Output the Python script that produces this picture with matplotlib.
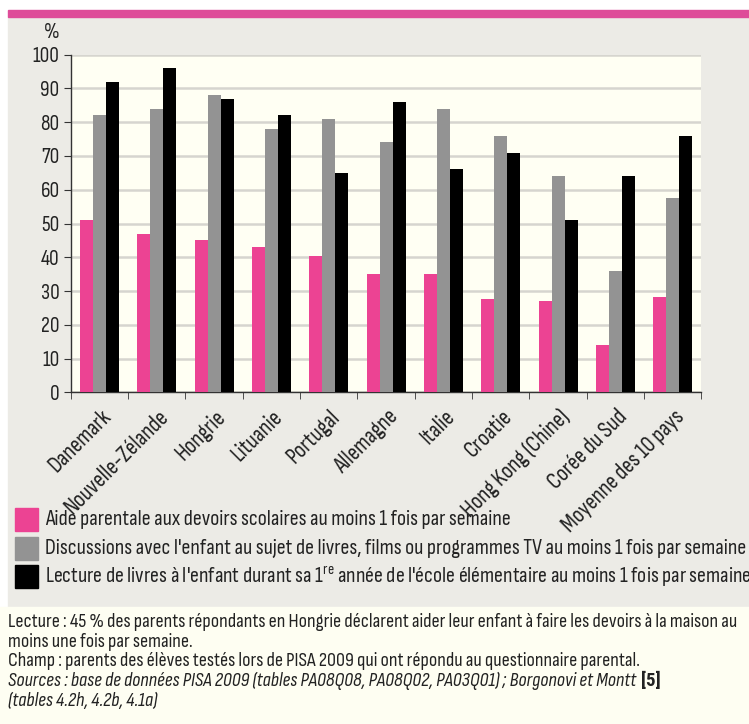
import numpy as np
import matplotlib.pyplot as plt
from matplotlib import font_manager
from matplotlib.patches import Rectangle
from matplotlib.transforms import ScaledTranslation

available = {f.name for f in font_manager.fontManager.ttflist}
family = None
for cand in ["Sofia Sans Condensed", "Barlow Condensed", "Roboto Condensed"]:
    if cand in available:
        family = cand
        break
if family:
    plt.rcParams["font.family"] = [family, "DejaVu Sans"]
else:
    plt.rcParams["font.family"] = ["DejaVu Sans"]
    plt.rcParams["font.stretch"] = "condensed"
bold_family = "Roboto Condensed" if "Roboto Condensed" in available else plt.rcParams["font.family"][0]

countries = ["Danemark", "Nouvelle-Zélande", "Hongrie", "Lituanie", "Portugal",
             "Allemagne", "Italie", "Croatie", "Hong Kong (Chine)", "Corée du Sud",
             "Moyenne des 10 pays"]
aide = [51, 47, 45, 43, 40.5, 35, 35, 27.5, 27, 14, 28.2]
discussions = [82, 84, 88, 78, 81, 74, 84, 76, 64, 36, 57.5]
lecture = [92, 96, 87, 82, 65, 86, 66, 71, 51, 64, 76]

series_labels = [
    "Aide parentale aux devoirs scolaires au moins 1 fois par semaine",
    "Discussions avec l'enfant au sujet de livres, films ou programmes TV au moins 1 fois par semaine",
    "Lecture de livres à l'enfant durant sa 1$^{\\mathregular{re}}$ année de l'école élémentaire au moins 1 fois par semaine",
]
colors = ["#EC4393", "#939393", "#000000"]

notes = [
    ("Lecture : 45 % des parents répondants en Hongrie déclarent aider leur enfant à faire les devoirs à la maison au", "normal"),
    ("moins une fois par semaine.", "normal"),
    ("Champ : parents des élèves testés lors de PISA 2009 qui ont répondu au questionnaire parental.", "normal"),
    ("Sources : base de données PISA 2009 (tables PA08Q08, PA08Q02, PA03Q01) ; Borgonovi et Montt", "italic"),
    ("(tables 4.2h, 4.2b, 4.1a)", "italic"),
]

W, H = 749, 724
fig = plt.figure(figsize=(W / 100, H / 100), dpi=100, facecolor="white")
renderer = fig.canvas.get_renderer()


def fit_size(text, width_px, **kw):
    # font size so that text is width_px wide
    t = fig.text(0, 0, text, fontsize=10, **kw)
    size = 10
    for _ in range(3):
        w = t.get_window_extent(renderer).width
        size *= width_px / w
        t.set_fontsize(size)
    t.remove()
    return size


legend_fs = fit_size(series_labels[1], 702)
note_fs = fit_size(notes[2][0], 629)
tick_fs = fit_size(countries[-1], 163)
ytick_fs = fit_size("100", 27)

# background panels
fig.patches.append(Rectangle((8 / W, (H - 607) / H), 1, (607 - 17) / H,
                             transform=fig.transFigure, color="#ECEBE6", zorder=-10))
fig.patches.append(Rectangle((8 / W, (H - 17) / H), 1, 7 / H,
                             transform=fig.transFigure, color="#DE4C99", zorder=-10))
fig.patches.append(Rectangle((0, 0), 1, (H - 607) / H,
                             transform=fig.transFigure, color="#FEFEF2", zorder=-10))

ax = fig.add_axes([70.7 / W, 1 - 392.3 / H, (701.5 - 70.7) / W, (392.3 - 54.7) / H])
ax.set_facecolor("#FFFFF3")

x = np.arange(len(countries))
bw = 0.227
for i, (vals, c) in enumerate(zip([aide, discussions, lecture], colors)):
    ax.bar(x + (i - 1) * bw, vals, width=bw, color=c, zorder=3)

ax.set_xlim(-0.5, len(countries) - 0.5)
ax.set_ylim(0, 100)
ax.set_yticks(range(0, 101, 10))
ax.yaxis.grid(True, color="#D6D5CF", linewidth=1.8, zorder=0)
ax.set_axisbelow(True)

for s in ["top", "right"]:
    ax.spines[s].set_visible(False)
for s in ["left", "bottom"]:
    ax.spines[s].set_color("#333333")
    ax.spines[s].set_linewidth(1.0)

ax.tick_params(axis="y", labelsize=ytick_fs, length=5, color="#333333", pad=3,
               labelcolor="#222222")
ax.set_xticks(x)
ax.set_xticklabels(countries, rotation=45, ha="right", va="center",
                   rotation_mode="anchor", fontsize=tick_fs, color="#222222")
ax.tick_params(axis="x", length=0, pad=15)
shift = ScaledTranslation(8 / 100, 0, fig.dpi_scale_trans)
for lab in ax.get_xticklabels():
    lab.set_transform(lab.get_transform() + shift)
ax.set_xticks(np.arange(-0.5, len(countries)), minor=True)
ax.tick_params(axis="x", which="minor", length=5, color="#333333")

fig.text(52 / W, 1 - 33 / H, "%", fontsize=ytick_fs, ha="center", va="center",
         color="#222222")

# legend
for i, (lab, c) in enumerate(zip(series_labels, colors)):
    yc = 519.5 + i * 28.5
    fig.patches.append(Rectangle((15 / W, 1 - (yc + 11.5) / H), 23 / W, 23 / H,
                                 transform=fig.transFigure, color=c, zorder=2))
    fig.text(45 / W, 1 - yc / H, lab, fontsize=legend_fs, ha="left", va="center",
             color="#222222")

# notes
for i, (t, st) in enumerate(notes):
    nt = fig.text(8 / W, 1 - (622 + i * 19.7) / H, t, fontsize=note_fs, style=st,
                  ha="left", va="center", color="#222222")
    if i == 3:
        end = nt.get_window_extent(renderer).x1
        fig.text((end + 5) / W, 1 - (622 + i * 19.7) / H, "[5]", fontsize=note_fs * 0.95,
                 weight="bold", family=bold_family, ha="left", va="center", color="#222222")

fig.savefig("out.png", dpi=100)
